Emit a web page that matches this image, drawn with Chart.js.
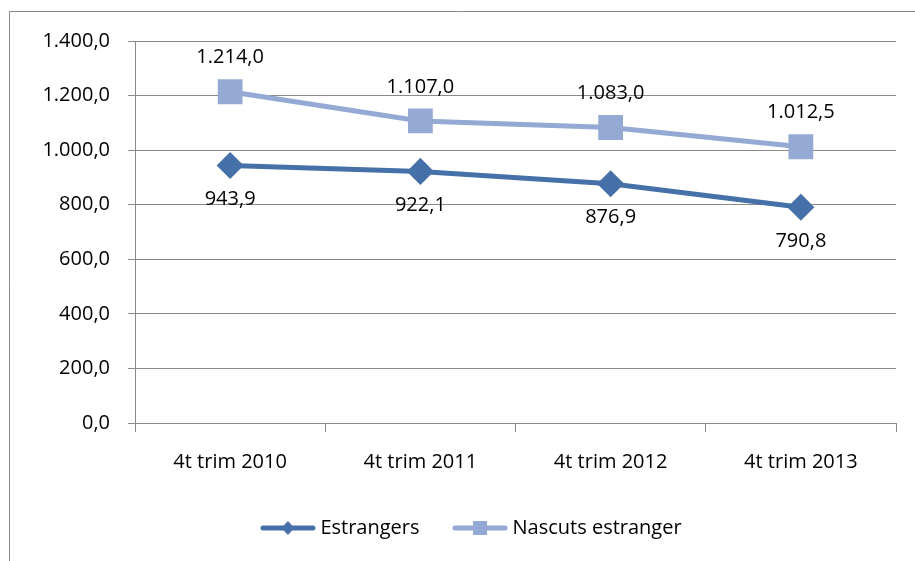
<!DOCTYPE html>
<html>
<head>
<meta charset="utf-8">
<script src="https://cdn.jsdelivr.net/npm/chart.js@4/dist/chart.umd.min.js"></script>
<style>
    html, body { margin: 0; padding: 0; background: #fff; }
    #wrap { position: relative; width: 915px; height: 561px; }
</style>
</head>
<body>
<div id="wrap"><canvas id="chart" width="915" height="561"></canvas></div>
<script>
// ===== DATA =====
const categories = ['4t trim 2010', '4t trim 2011', '4t trim 2012', '4t trim 2013'];
const estrangers = [943.9, 922.1, 876.9, 790.8];
const nascuts = [1214.0, 1107.0, 1083.0, 1012.5];
const seriesNames = ['Estrangers', 'Nascuts estranger'];

const darkBlue = '#4571a8';
const lightBlue = '#94a9d3';
const FONT = '"Open Sans", Lato, sans-serif';
const FSIZE = 20;

// 1.214,0 style numbers
function fmt(v) {
    const parts = v.toFixed(1).split('.');
    const intPart = parts[0].replace(/\B(?=(\d{3})+(?!\d))/g, '.');
    return intPart + ',' + parts[1];
}

// legend swatch: a line with the marker in the middle
function legendIcon(color, shape) {
    const c = document.createElement('canvas');
    c.width = 56; c.height = 20;
    const g = c.getContext('2d');
    g.strokeStyle = color;
    g.lineWidth = 5;
    g.lineCap = 'round';
    g.beginPath(); g.moveTo(3, 10); g.lineTo(53, 10); g.stroke();
    g.fillStyle = color;
    if (shape === 'diamond') {
        g.beginPath();
        g.moveTo(28, 3); g.lineTo(34.5, 10); g.lineTo(28, 17); g.lineTo(21.5, 10);
        g.closePath(); g.fill();
    } else {
        g.fillRect(21, 3, 14, 14);
    }
    return c;
}

// outer frame of the chart
const framePlugin = {
    id: 'frame',
    beforeDraw(chart) {
        const ctx = chart.ctx;
        ctx.save();
        ctx.strokeStyle = '#8a8a8a';
        ctx.lineWidth = 1;
        ctx.beginPath();
        ctx.moveTo(9.5, 561);
        ctx.lineTo(9.5, 11.5);
        ctx.lineTo(915, 11.5);
        ctx.stroke();
        ctx.restore();
    }
};

// legend sits a bit right of the plot centre in the original
const legendShift = {
    id: 'legendShift',
    afterLayout(chart) {
        chart.legend.left += 28;
    }
};

// value labels: above the light series, below the dark one
const labelPlugin = {
    id: 'valueLabels',
    afterDatasetsDraw(chart) {
        const ctx = chart.ctx;
        ctx.save();
        ctx.font = FSIZE + 'px ' + FONT;
        ctx.fillStyle = '#000';
        ctx.textAlign = 'center';
        ctx.textBaseline = 'middle';
        chart.data.datasets.forEach((ds, i) => {
            const off = i === 0 ? 34 : -34;
            chart.getDatasetMeta(i).data.forEach((pt, j) => {
                ctx.fillText(fmt(ds.data[j]), pt.x, pt.y + off);
            });
        });
        ctx.restore();
    }
};

new Chart(document.getElementById('chart'), {
    type: 'line',
    data: {
        labels: categories,
        datasets: [{
            label: seriesNames[0],
            data: estrangers,
            borderColor: darkBlue,
            backgroundColor: darkBlue,
            borderWidth: 5,
            pointStyle: 'rectRot',
            pointRadius: 10,
            pointHoverRadius: 10,
            tension: 0
        }, {
            label: seriesNames[1],
            data: nascuts,
            borderColor: lightBlue,
            backgroundColor: lightBlue,
            borderWidth: 5,
            pointStyle: 'rect',
            pointRadius: 14,
            pointHoverRadius: 14,
            tension: 0
        }]
    },
    options: {
        responsive: false,
        animation: false,
        layout: { padding: { left: 20, right: 16, top: 41, bottom: 13 } },
        plugins: {
            tooltip: { enabled: false },
            legend: {
                position: 'bottom',
                labels: {
                    font: { family: FONT, size: FSIZE },
                    color: '#000',
                    usePointStyle: true,
                    pointStyleWidth: 45,
                    padding: 38,
                    generateLabels(chart) {
                        return chart.data.datasets.map((ds, i) => ({
                            text: ds.label,
                            pointStyle: legendIcon(ds.borderColor, i === 0 ? 'diamond' : 'square'),
                            fillStyle: ds.borderColor,
                            strokeStyle: ds.borderColor,
                            lineWidth: 0,
                            datasetIndex: i
                        }));
                    }
                }
            }
        },
        scales: {
            x: {
                offset: true,
                afterFit(scale) { scale.height = 57; },
                grid: {
                    offset: true,
                    drawOnChartArea: false,
                    drawTicks: true,
                    tickLength: 9,
                    color: '#8a8a8a'
                },
                border: { color: '#8a8a8a', width: 1 },
                ticks: {
                    font: { family: FONT, size: FSIZE },
                    color: '#000',
                    padding: 18
                }
            },
            y: {
                min: 0,
                max: 1400,
                afterFit(scale) { scale.width = 115; },
                grid: {
                    color: '#8a8a8a',
                    tickLength: 7
                },
                border: { color: '#8a8a8a', width: 1 },
                ticks: {
                    stepSize: 200,
                    font: { family: FONT, size: FSIZE },
                    color: '#000',
                    padding: 18,
                    callback: v => fmt(v)
                }
            }
        }
    },
    plugins: [framePlugin, legendShift, labelPlugin]
});
</script>
</body>
</html>
